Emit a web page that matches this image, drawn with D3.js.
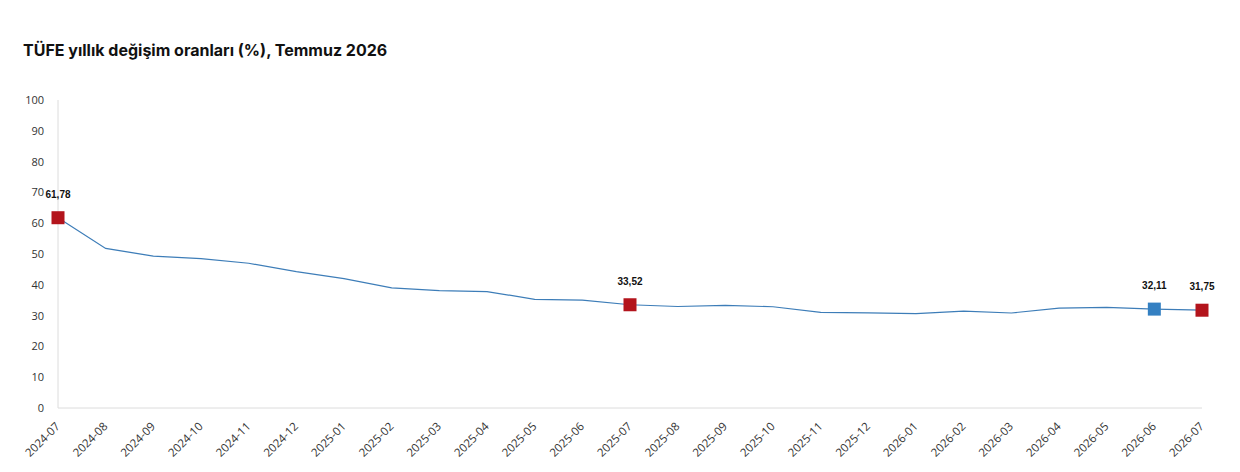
<!DOCTYPE html>
<html><head><meta charset="utf-8">
<script src="https://cdn.jsdelivr.net/npm/d3@7"></script>
<style>body{margin:0;background:#fff;} svg{display:block;}</style>
</head><body>
<svg id="c" width="1240" height="472"></svg>
<script>
const title = "TÜFE yıllık değişim oranları (%), Temmuz 2026";
const months = ["2024-07","2024-08","2024-09","2024-10","2024-11","2024-12","2025-01","2025-02","2025-03","2025-04","2025-05","2025-06","2025-07","2025-08","2025-09","2025-10","2025-11","2025-12","2026-01","2026-02","2026-03","2026-04","2026-05","2026-06","2026-07"];
const values = [61.78,51.8,49.3,48.5,47.0,44.3,42.0,39.0,38.1,37.8,35.3,35.0,33.52,32.95,33.29,32.87,31.07,30.89,30.65,31.45,30.85,32.40,32.65,32.11,31.75];
const highlightRed = ["2024-07","2025-07","2026-07"];
const highlightBlue = ["2026-06"];
const yTicks = [0,10,20,30,40,50,60,70,80,90,100];

const svg = d3.select("#c");
const m = {l:58, r:1202, t:100, b:408};
const x = d3.scalePoint().domain(months).range([m.l, m.r]);
const y = d3.scaleLinear().domain([0,100]).range([m.b, m.t]);

svg.append("text").attr("x",23).attr("y",56)
  .attr("font-family","Inter, Roboto, sans-serif").attr("font-weight",700)
  .attr("font-size",16).attr("fill","#111").text(title);

// axes lines
svg.append("line").attr("x1",m.l).attr("x2",m.l).attr("y1",m.t).attr("y2",m.b).attr("stroke","#dcdcdc");
svg.append("line").attr("x1",m.l).attr("x2",m.r).attr("y1",m.b).attr("y2",m.b).attr("stroke","#dcdcdc");

// y ticks
const ya = svg.append("g").attr("transform",`translate(${m.l},0)`)
  .call(d3.axisLeft(y).tickValues(yTicks).tickSize(0).tickPadding(14));
ya.select(".domain").remove();
ya.selectAll("text").attr("font-family","'Open Sans', sans-serif").attr("font-size",11).attr("fill","#333");

// x ticks
const xa = svg.append("g").attr("transform",`translate(0,${m.b})`)
  .call(d3.axisBottom(x).tickSize(0));
xa.select(".domain").remove();
xa.selectAll("text").attr("font-family","'Open Sans', sans-serif").attr("font-size",11.5).attr("fill","#333")
  .attr("text-anchor","end").attr("x",-12).attr("y",15).attr("dx",0).attr("dy",0)
  .attr("transform","rotate(-45)");

const data = months.map((mo,i)=>({m:mo,v:values[i]}));
const line = d3.line().x(d=>x(d.m)).y(d=>y(d.v));
svg.append("path").datum(data).attr("d",line).attr("fill","none").attr("stroke","#3d7db8").attr("stroke-width",1.2);

const hl = data.filter(d=>highlightRed.includes(d.m)||highlightBlue.includes(d.m));
svg.selectAll("rect.mk").data(hl).enter().append("rect")
  .attr("x",d=>x(d.m)-6.5).attr("y",d=>y(d.v)-6.5).attr("width",13).attr("height",13)
  .attr("fill",d=>highlightBlue.includes(d.m)?"#3480c2":"#b3141c");
svg.selectAll("text.lb").data(hl).enter().append("text")
  .attr("x",d=>x(d.m)).attr("y",d=>y(d.v)-20)
  .attr("text-anchor","middle").attr("font-family","'Liberation Sans', Arial, sans-serif")
  .attr("font-weight",700).attr("font-size",10).attr("fill","#111")
  .text(d=>d.v.toFixed(2).replace(".",","));
</script>
</body></html>
